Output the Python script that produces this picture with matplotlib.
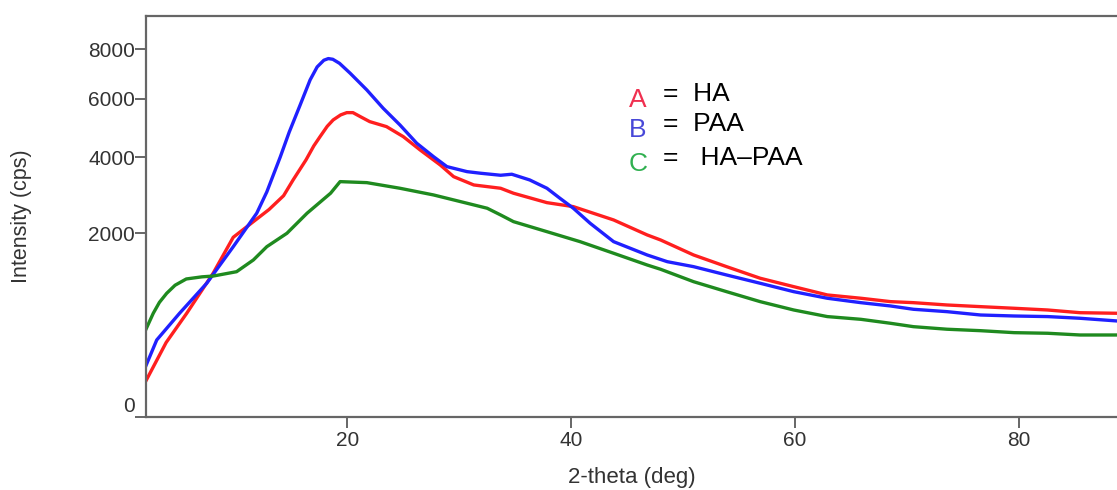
import numpy as np
import matplotlib
matplotlib.use("Agg")
import matplotlib.pyplot as plt

plt.rcParams['font.family'] = ['Liberation Sans', 'DejaVu Sans']

# XRD patterns (2-theta in deg, intensity in cps)
x_ha = [1.9, 3.8, 5.64, 8.0, 9.8, 11.6, 13.0, 14.3, 15.15, 16.3, 17.0, 17.56, 18.2,
        18.73, 19.4, 19.95, 20.5, 21.2, 22.0, 23.5, 25.0, 26.5, 28.3, 29.5, 31.3,
        33.7, 34.85, 37.84, 40.2, 43.8, 46.8, 48.0, 50.95, 53.9, 56.9, 59.9, 62.9,
        65.9, 68.55, 70.6, 73.6, 76.6, 79.6, 82.6, 85.5, 88.8]
y_ha = [70, 330, 639, 1225, 1914, 2261, 2550, 2900, 3327, 3911, 4350, 4652, 5000,
        5222, 5400, 5482, 5482, 5330, 5163, 4990, 4652, 4222, 3761, 3420, 3188,
        3098, 2965, 2721, 2621, 2300, 1964, 1857, 1556, 1340, 1142, 1008, 884,
        837, 790, 776, 745, 723, 702, 680, 646, 639]

x_paa = [1.9, 2.96, 5.0, 7.43, 9.8, 11.9, 12.8, 14.0, 14.8, 15.77, 16.67, 17.3,
         17.9, 18.3, 18.7, 19.3, 20.25, 21.74, 23.2, 24.7, 26.2, 27.7, 28.9, 30.7,
         31.9, 33.7, 34.7, 36.3, 37.84, 39.0, 40.2, 41.7, 43.8, 46.8, 48.6, 50.95,
         53.9, 56.9, 59.9, 62.9, 65.9, 68.55, 70.6, 73.6, 76.6, 79.6, 82.6, 85.5,
         88.8]
y_paa = [142, 353, 639, 1061, 1719, 2460, 3000, 4000, 4800, 5750, 6722, 7250,
         7530, 7600, 7570, 7400, 6992, 6329, 5641, 5048, 4436, 4013, 3711, 3564,
         3518, 3460, 3489, 3327, 3098, 2834, 2581, 2224, 1822, 1556, 1430, 1340,
         1196, 1061, 932, 837, 776, 732, 689, 659, 618, 606, 599, 579, 548]

x_mix = [1.9, 2.65, 3.2, 3.85, 4.6, 5.6, 7.0, 8.0, 10.1, 11.6, 12.8, 14.6, 16.4,
         18.5, 19.35, 21.74, 24.7, 27.7, 30.7, 32.5, 33.7, 34.85, 37.84, 40.8, 43.8,
         46.8, 48.0, 50.95, 53.9, 56.9, 59.9, 62.9, 65.9, 68.55, 70.6, 73.6, 76.6,
         79.6, 82.6, 85.5, 88.8]
y_mix = [433, 639, 780, 908, 1030, 1130, 1165, 1178, 1252, 1462, 1719, 2000, 2460,
         2965, 3280, 3252, 3098, 2920, 2706, 2581, 2418, 2261, 2035, 1822, 1589,
         1370, 1294, 1086, 932, 790, 680, 599, 567, 522, 485, 458, 443,
         423, 417, 400, 400]

y_ticks = [0, 2000, 4000, 6000, 8000]
x_ticks = [20, 40, 60, 80]

fig = plt.figure(figsize=(11.17, 4.90), dpi=100)
ax = fig.add_axes([0.1307, 0.1484, 0.8693, 0.8189])

ax.plot(x_ha, y_ha, color='#ff1f1f', lw=2.4)
ax.plot(x_paa, y_paa, color='#2020ff', lw=2.4)
ax.plot(x_mix, y_mix, color='#1f8a1f', lw=2.4)

# square-root intensity axis
ax.set_yscale('function', functions=(lambda v: np.sqrt(np.clip(v, 0, None)),
                                     lambda v: np.square(v)))
ax.set_xlim(2, 88.8)
ax.set_ylim(0, 9510)

ax.set_yticks(y_ticks)
ax.set_yticklabels([''] + [str(t) for t in y_ticks[1:]])
ax.set_xticks(x_ticks)
ax.text(-0.011, 0.028, '0', transform=ax.transAxes, ha='right', va='center',
        fontsize=15, color='#333333')

for s in ['left', 'top', 'bottom']:
    ax.spines[s].set_color('#666666')
    ax.spines[s].set_linewidth(1.6)
ax.spines['right'].set_visible(False)
ax.tick_params(axis='both', colors='#666666', width=1.4, length=8,
               labelsize=15, labelcolor='#333333')
ax.tick_params(axis='x', pad=2)
ax.tick_params(axis='y', pad=0)

ax.set_xlabel('2-theta (deg)', fontsize=16, color='#333333', labelpad=12)
ax.set_ylabel('Intensity (cps)', fontsize=15.5, color='#333333', labelpad=40)

# legend written as text
legend_rows = [('A', '=  HA', '#f03050', 0.790),
               ('B', '=  PAA', '#4848d8', 0.715),
               ('C', '=   HA\u2013PAA', '#30b050', 0.632)]
for letter, name, col, yy in legend_rows:
    ax.text(0.497, yy, letter, transform=ax.transAxes, fontsize=19, color=col,
            va='center', ha='left')
    ax.text(0.532, yy + 0.015, name, transform=ax.transAxes, fontsize=19,
            color='black', va='center', ha='left')

fig.savefig('out.png', dpi=100)
